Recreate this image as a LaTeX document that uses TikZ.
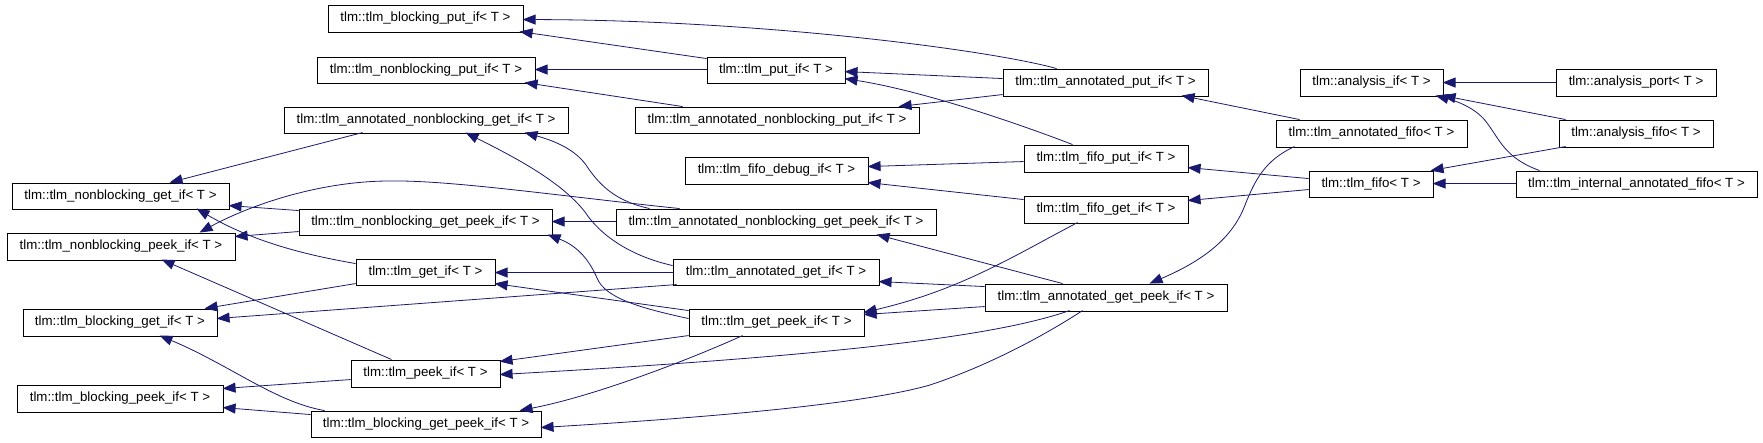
\documentclass[tikz,border=0pt]{standalone}
\usepackage{fontspec}
\setmainfont{Liberation Sans}
\usetikzlibrary{arrows.meta,calc}
\definecolor{edgeblue}{RGB}{25,25,112}
\begin{document}
\begin{tikzpicture}[x=1pt,y=-1pt,
  cls/.style={draw=black,line width=0.9pt,fill=white,inner sep=0pt,font=\fontsize{13.3}{16}\selectfont},
  inh/.style={draw=edgeblue,line width=0.8pt,-{Triangle[length=13pt,width=10pt]},fill=none}]
\useasboundingbox[fill=white] (0,0) rectangle (1763,443);
% column 1
\node[cls,minimum width=217pt,minimum height=26pt] (nbget) at (120.5,196) {tlm::tlm\_nonblocking\_get\_if< T >};
\node[cls,minimum width=228pt,minimum height=27pt] (nbpeek) at (121,246.5) {tlm::tlm\_nonblocking\_peek\_if< T >};
\node[cls,minimum width=194pt,minimum height=27pt] (bget) at (120,322.5) {tlm::tlm\_blocking\_get\_if< T >};
\node[cls,minimum width=206pt,minimum height=27pt] (bpeek) at (120,398.5) {tlm::tlm\_blocking\_peek\_if< T >};
% column 2
\node[cls,minimum width=195pt,minimum height=27pt] (bput) at (425.5,18.5) {tlm::tlm\_blocking\_put\_if< T >};
\node[cls,minimum width=218pt,minimum height=26pt] (nbput) at (426,70) {tlm::tlm\_nonblocking\_put\_if< T >};
\node[cls,minimum width=284pt,minimum height=26pt] (anbget) at (426,120) {tlm::tlm\_annotated\_nonblocking\_get\_if< T >};
\node[cls,minimum width=253pt,minimum height=26pt] (nbgetpeek) at (425.5,222) {tlm::tlm\_nonblocking\_get\_peek\_if< T >};
\node[cls,minimum width=139pt,minimum height=26pt] (get) at (425.5,272) {tlm::tlm\_get\_if< T >};
\node[cls,minimum width=149pt,minimum height=27pt] (peek) at (425.5,373.5) {tlm::tlm\_peek\_if< T >};
\node[cls,minimum width=230pt,minimum height=26pt] (bgetpeek) at (426,424) {tlm::tlm\_blocking\_get\_peek\_if< T >};
% column 3
\node[cls,minimum width=138pt,minimum height=26pt] (put) at (776,70) {tlm::tlm\_put\_if< T >};
\node[cls,minimum width=284pt,minimum height=26pt] (anbput) at (777,120) {tlm::tlm\_annotated\_nonblocking\_put\_if< T >};
\node[cls,minimum width=183pt,minimum height=27pt] (fdebug) at (776.5,170.5) {tlm::tlm\_fifo\_debug\_if< T >};
\node[cls,minimum width=320pt,minimum height=26pt] (anbgetpeek) at (776,222) {tlm::tlm\_annotated\_nonblocking\_get\_peek\_if< T >};
\node[cls,minimum width=206pt,minimum height=26pt] (aget) at (776,272) {tlm::tlm\_annotated\_get\_if< T >};
\node[cls,minimum width=175pt,minimum height=27pt] (getpeek) at (776.5,322.5) {tlm::tlm\_get\_peek\_if< T >};
% column 4
\node[cls,minimum width=205pt,minimum height=27pt] (aput) at (1105.5,82.5) {tlm::tlm\_annotated\_put\_if< T >};
\node[cls,minimum width=164pt,minimum height=27pt] (fput) at (1106,158.5) {tlm::tlm\_fifo\_put\_if< T >};
\node[cls,minimum width=164pt,minimum height=27pt] (fget) at (1106,209.5) {tlm::tlm\_fifo\_get\_if< T >};
\node[cls,minimum width=242pt,minimum height=27pt] (agetpeek) at (1106,297.5) {tlm::tlm\_annotated\_get\_peek\_if< T >};
% column 5
\node[cls,minimum width=143pt,minimum height=27pt] (aif) at (1371.5,82.5) {tlm::analysis\_if< T >};
\node[cls,minimum width=191pt,minimum height=27pt] (afifo) at (1371.5,133.5) {tlm::tlm\_annotated\_fifo< T >};
\node[cls,minimum width=124pt,minimum height=26pt] (fifo) at (1371,184) {tlm::tlm\_fifo< T >};
% column 6
\node[cls,minimum width=160pt,minimum height=27pt] (aport) at (1636,82.5) {tlm::analysis\_port< T >};
\node[cls,minimum width=154pt,minimum height=27pt] (afifo2) at (1636,133.5) {tlm::analysis\_fifo< T >};
\node[cls,minimum width=241pt,minimum height=26pt] (iafifo) at (1636.5,184) {tlm::tlm\_internal\_annotated\_fifo< T >};

% ---- edges (derived -> base) ----
\draw[inh] ($(aput.north west)+(54,0)$) .. controls (990,50) and (760,20) .. ($(bput.north west)+(195,15)$);
\draw[inh] ($(put.north west)+(0,2)$) -- ($(bput.north west)+(192,27)$);
\draw[inh] ($(put.north west)+(0,13)$) -- ($(nbput.north west)+(218,13)$);
\draw[inh] ($(anbput.north west)+(48,0)$) -- ($(nbput.north west)+(208,26)$);
\draw[inh] ($(aput.north west)+(0,10)$) -- ($(put.north west)+(138,15)$);
\draw[inh] ($(fput.north west)+(49,0)$) .. controls (1035,130) and (930,92) .. ($(put.north west)+(138,22)$);
\draw[inh] ($(aput.north west)+(0,26)$) -- ($(anbput.north west)+(264,0)$);
\draw[inh] ($(fput.north west)+(0,17)$) -- ($(fdebug.north west)+(183,10)$);
\draw[inh] ($(fget.north west)+(0,4)$) -- ($(fdebug.north west)+(183,26)$);
\draw[inh] ($(anbgetpeek.north west)+(0,13)$) -- ($(nbgetpeek.north west)+(253,13)$);
\draw[inh] ($(anbget.north west)+(79,26)$) -- ($(nbget.north west)+(158,0)$);
\draw[inh] ($(nbgetpeek.north west)+(0,2)$) -- ($(nbget.north west)+(217,23)$);
\draw[inh] ($(nbgetpeek.north west)+(0,23)$) -- ($(nbpeek.north west)+(228,4)$);
\draw[inh] ($(anbgetpeek.north west)+(64,0)$) .. controls (560,196) and (450,180) .. (390,181) .. controls (320,181) and (250,205) .. ($(nbpeek.north west)+(193,0)$);
\draw[inh] ($(get.north west)+(0,5)$) .. controls (300,254) and (250,240) .. ($(nbget.north west)+(185,26)$);
\draw[inh] ($(get.north west)+(0,25)$) -- ($(bget.north west)+(182,0)$);
\draw[inh] ($(aget.north west)+(4,26)$) -- ($(bget.north west)+(194,10)$);
\draw[inh] ($(peek.north west)+(41,0)$) -- ($(nbpeek.north west)+(155,27)$);
\draw[inh] ($(bgetpeek.north west)+(14,0)$) .. controls (275,402) and (230,365) .. ($(bget.north west)+(137,27)$);
\draw[inh] ($(peek.north west)+(0,20)$) -- ($(bpeek.north west)+(206,4)$);
\draw[inh] ($(bgetpeek.north west)+(0,4)$) -- ($(bpeek.north west)+(206,23)$);
\draw[inh] ($(aget.north west)+(0,7)$) .. controls (630,256) and (600,235) .. (585,212) .. controls (560,180) and (510,155) .. ($(anbget.north west)+(182,26)$);
\draw[inh] ($(anbgetpeek.north west)+(34,0)$) .. controls (615,201) and (600,185) .. (588,168) .. controls (577,150) and (555,141) .. ($(anbget.north west)+(241,26)$);
\draw[inh] ($(getpeek.north west)+(0,10)$) .. controls (640,308) and (605,298) .. (597,278) .. controls (588,257) and (575,245) .. ($(nbgetpeek.north west)+(249,26)$);
\draw[inh] ($(aget.north west)+(0,14)$) -- ($(get.north west)+(139,14)$);
\draw[inh] ($(getpeek.north west)+(0,2)$) -- ($(get.north west)+(139,25)$);
\draw[inh] ($(getpeek.north west)+(0,27)$) -- ($(peek.north west)+(149,2)$);
\draw[inh] ($(agetpeek.north west)+(85,27)$) .. controls (1000,335) and (850,355) .. ($(peek.north west)+(149,15)$);
\draw[inh] ($(getpeek.north west)+(54,27)$) .. controls (700,355) and (600,395) .. ($(bgetpeek.north west)+(209,0)$);
\draw[inh] ($(agetpeek.north west)+(98,27)$) .. controls (1045,335) and (990,365) .. (930,385) .. controls (860,405) and (700,418) .. ($(bgetpeek.north west)+(230,17)$);
\draw[inh] ($(agetpeek.north west)+(78,0)$) -- ($(anbgetpeek.north west)+(261,26)$);
\draw[inh] ($(agetpeek.north west)+(0,3)$) -- ($(aget.north west)+(206,23)$);
\draw[inh] ($(agetpeek.north west)+(0,23)$) -- ($(getpeek.north west)+(175,6)$);
\draw[inh] ($(fget.north west)+(54,27)$) .. controls (1010,258) and (960,290) .. ($(getpeek.north west)+(175,4)$);
\draw[inh] ($(afifo.north west)+(19,27)$) .. controls (1265,160) and (1255,180) .. (1245,205) .. controls (1232,240) and (1200,262) .. ($(agetpeek.north west)+(165,0)$);
\draw[inh] ($(afifo.north west)+(24,0)$) -- ($(aput.north west)+(179,27)$);
\draw[inh] ($(fifo.north west)+(0,8)$) -- ($(fput.north west)+(164,23)$);
\draw[inh] ($(fifo.north west)+(0,19)$) -- ($(fget.north west)+(164,5)$);
\draw[inh] ($(aport.north west)+(0,14)$) -- ($(aif.north west)+(143,14)$);
\draw[inh] ($(afifo2.north west)+(7,0)$) -- ($(aif.north west)+(143,27)$);
\draw[inh] ($(iafifo.north west)+(24,0)$) .. controls (1505,158) and (1500,140) .. (1487,123) .. controls (1478,110) and (1460,102) .. ($(aif.north west)+(136,27)$);
\draw[inh] ($(afifo2.north west)+(7,27)$) -- ($(fifo.north west)+(122,0)$);
\draw[inh] ($(iafifo.north west)+(0,13)$) -- ($(fifo.north west)+(124,13)$);
\end{tikzpicture}
\end{document}
